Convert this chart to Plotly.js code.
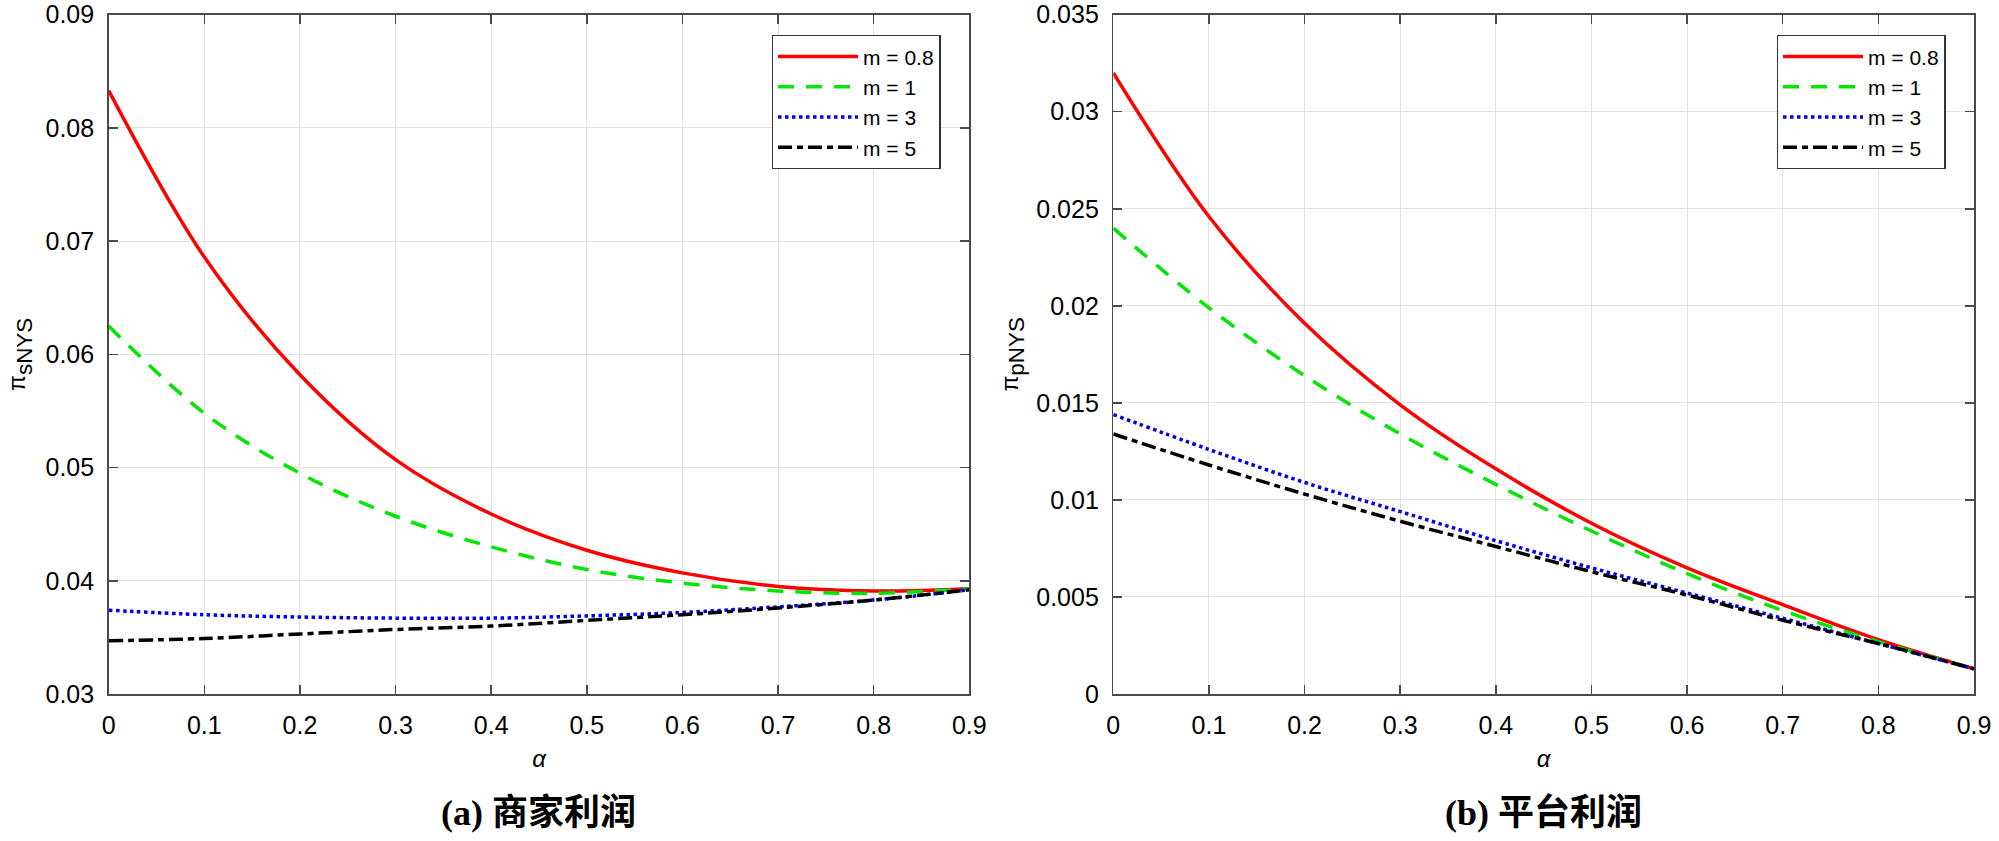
<!DOCTYPE html>
<html>
<head>
<meta charset="utf-8">
<script src="https://cdn.plot.ly/plotly-3.0.1.min.js"></script>
<style>html,body{margin:0;padding:0;background:#fff;}</style>
</head>
<body>
<div id="chart" style="width:1999px;height:841px;"></div>
<script>
// ---- data ----
const alpha = [0, 0.1, 0.2, 0.3, 0.4, 0.5, 0.6, 0.7, 0.8, 0.9];
const seriesNames = ['m = 0.8', 'm = 1', 'm = 3', 'm = 5'];

// (a) merchant profit  pi_sNYS
const sNYS_m08 = [0.0833, 0.0686, 0.0582, 0.0507, 0.0459, 0.0427, 0.0407, 0.0395, 0.0391, 0.0393];
const sNYS_m1  = [0.0625, 0.0548, 0.0495, 0.0457, 0.0430, 0.0410, 0.0398, 0.0391, 0.0389, 0.0393];
const sNYS_m3  = [0.0374, 0.0370, 0.0368, 0.0367, 0.0367, 0.0369, 0.0372, 0.0377, 0.0383, 0.0392];
const sNYS_m5  = [0.0347, 0.0349, 0.0353, 0.0357, 0.0360, 0.0365, 0.0370, 0.0376, 0.0383, 0.0392];

// (b) platform profit  pi_pNYS
const pNYS_m08 = [0.0320, 0.0246, 0.0191, 0.0149, 0.0116, 0.0088, 0.0065, 0.0046, 0.0028, 0.0013];
const pNYS_m1  = [0.0240, 0.0199, 0.0164, 0.0134, 0.0108, 0.0084, 0.0062, 0.0043, 0.0027, 0.0013];
const pNYS_m3  = [0.0144, 0.0126, 0.0109, 0.0094, 0.0079, 0.0065, 0.0052, 0.0039, 0.0026, 0.0013];
const pNYS_m5  = [0.0134, 0.0118, 0.0103, 0.0089, 0.0076, 0.0063, 0.0051, 0.0038, 0.0026, 0.0013];

const xTickVals = [0, 0.1, 0.2, 0.3, 0.4, 0.5, 0.6, 0.7, 0.8, 0.9];
const xTickText = ['0', '0.1', '0.2', '0.3', '0.4', '0.5', '0.6', '0.7', '0.8', '0.9'];
const yTickValsA = [0.03, 0.04, 0.05, 0.06, 0.07, 0.08, 0.09];
const yTickTextA = ['0.03', '0.04', '0.05', '0.06', '0.07', '0.08', '0.09'];
const yTickValsB = [0, 0.005, 0.01, 0.015, 0.02, 0.025, 0.03, 0.035];
const yTickTextB = ['0', '0.005', '0.01', '0.015', '0.02', '0.025', '0.03', '0.035'];

const subTitleA = '(a) 商家利润';
const subTitleB = '(b) 平台利润';

// ---- styles ----
const lineStyles = [
  {color: '#ff0000', width: 3.5, dash: 'solid'},
  {color: '#00e600', width: 3.5, dash: '16px,12px'},
  {color: '#0000ee', width: 3.5, dash: '3.5px,3.5px'},
  {color: '#000000', width: 3.5, dash: '14px,5px,6px,5px'}
];

const sData = [sNYS_m08, sNYS_m1, sNYS_m3, sNYS_m5];
const pData = [pNYS_m08, pNYS_m1, pNYS_m3, pNYS_m5];

const traces = [];
sData.forEach((ys, i) => traces.push({
  x: alpha, y: ys, name: seriesNames[i], type: 'scatter', mode: 'lines',
  line: Object.assign({shape: 'spline', smoothing: 1}, lineStyles[i]),
  xaxis: 'x', yaxis: 'y', legend: 'legend'
}));
pData.forEach((ys, i) => traces.push({
  x: alpha, y: ys, name: seriesNames[i], type: 'scatter', mode: 'lines',
  line: Object.assign({shape: 'spline', smoothing: 1}, lineStyles[i]),
  xaxis: 'x2', yaxis: 'y2', legend: 'legend2'
}));

const sansFam = 'Liberation Sans, Arial, sans-serif';
const tickFont = {family: sansFam, size: 25, color: '#000'};
const axisCommon = {
  showline: true, linecolor: '#4a4a4a', linewidth: 1.5, mirror: 'ticks',
  ticks: 'inside', ticklen: 9, tickwidth: 1.5, tickcolor: '#4a4a4a',
  showgrid: true, gridcolor: '#e2e2e2', gridwidth: 1,
  zeroline: false, tickfont: tickFont, fixedrange: true
};

const yDomain = [1 - 694 / 841, 1 - 14.7 / 841];
const xDomA = [108.7 / 1999, 969.3 / 1999];
const xDomB = [1113.3 / 1999, 1974 / 1999];

const xTitle = {text: '<i>α</i>', font: {family: sansFam, size: 24, color: '#000'}, standoff: 12};

const legendCommon = {
  bgcolor: '#ffffff', bordercolor: '#333333', borderwidth: 1.3,
  font: {family: sansFam, size: 21, color: '#000'},
  xanchor: 'left', yanchor: 'top', itemwidth: 80, tracegroupgap: 0,
  traceorder: 'normal'
};

const layout = {
  width: 1999, height: 841,
  margin: {l: 0, r: 0, t: 0, b: 0},
  paper_bgcolor: '#ffffff', plot_bgcolor: '#ffffff',
  showlegend: true,
  xaxis: Object.assign({}, axisCommon, {domain: xDomA, range: [0, 0.9], anchor: 'y',
    tickvals: xTickVals, ticktext: xTickText, title: xTitle, ticklabelstandoff: 8}),
  yaxis: Object.assign({}, axisCommon, {domain: yDomain, range: [0.03, 0.09], anchor: 'x',
    tickvals: yTickValsA, ticktext: yTickTextA, ticklabelstandoff: 8,
    title: {text: '<span style="font-size:23px">π</span><sub>sNYS</sub>', font: {family: sansFam, size: 32, color: '#000'}, standoff: 10}}),
  xaxis2: Object.assign({}, axisCommon, {domain: xDomB, range: [0, 0.9], anchor: 'y2',
    tickvals: xTickVals, ticktext: xTickText, title: xTitle, ticklabelstandoff: 8}),
  yaxis2: Object.assign({}, axisCommon, {domain: yDomain, range: [0, 0.035], anchor: 'x2',
    tickvals: yTickValsB, ticktext: yTickTextB, ticklabelstandoff: 8,
    title: {text: '<span style="font-size:23px">π</span><sub>pNYS</sub>', font: {family: sansFam, size: 32, color: '#000'}, standoff: 8}}),
  legend: Object.assign({}, legendCommon, {x: 771.7 / 1999, y: 1 - 35 / 841}),
  legend2: Object.assign({}, legendCommon, {x: 1776.7 / 1999, y: 1 - 35 / 841}),
  annotations: [
    {text: '<b>' + subTitleA + '</b>', xref: 'paper', yref: 'paper',
     x: (xDomA[0] + xDomA[1]) / 2, y: 1 - 813 / 841, xanchor: 'center', yanchor: 'middle',
     showarrow: false, font: {family: 'Liberation Serif, Noto Sans CJK SC, serif', size: 36, color: '#000'}},
    {text: '<b>' + subTitleB + '</b>', xref: 'paper', yref: 'paper',
     x: (xDomB[0] + xDomB[1]) / 2, y: 1 - 813 / 841, xanchor: 'center', yanchor: 'middle',
     showarrow: false, font: {family: 'Liberation Serif, Noto Sans CJK SC, serif', size: 36, color: '#000'}}
  ]
};

Plotly.newPlot('chart', traces, layout, {displayModeBar: false, staticPlot: true});
</script>
</body>
</html>
